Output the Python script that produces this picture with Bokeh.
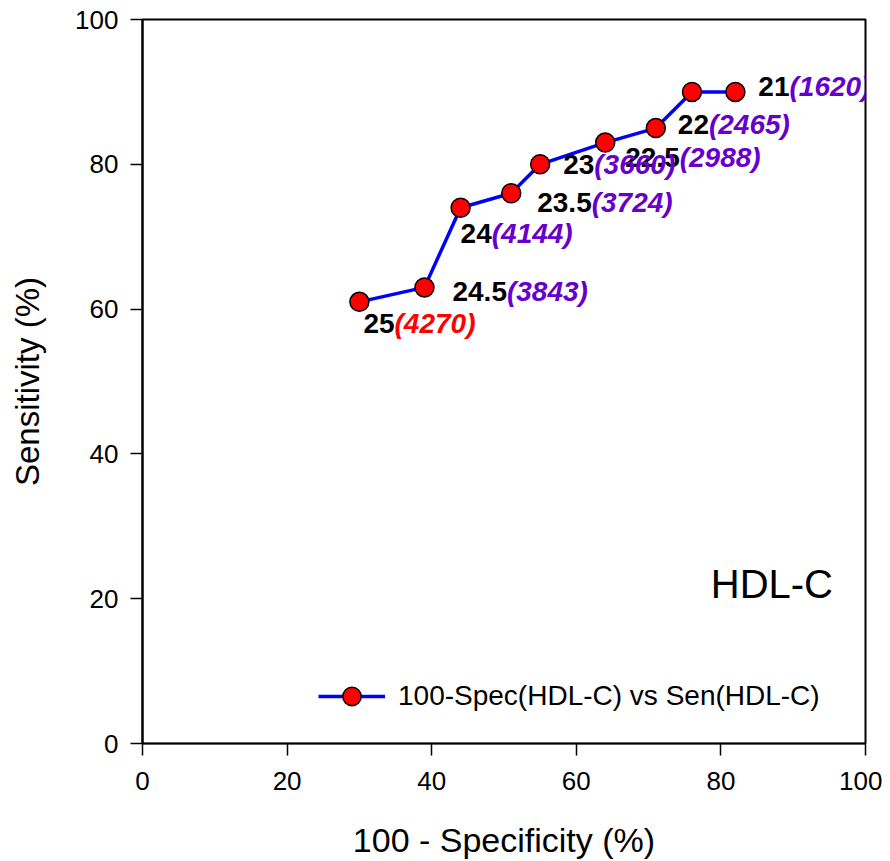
from bokeh.plotting import figure
from bokeh.models import Range1d, Label, Legend, LegendItem, ColumnDataSource, FixedTicker
from bokeh.core.properties import value
from bokeh.embed import file_html
from bokeh.resources import INLINE

# ---- data ----
fpr = [30, 39, 44, 51, 55, 64, 71, 76, 82]          # 100 - Specificity (%)
sens = [61, 63, 74, 76, 80, 83, 85, 90, 90]         # Sensitivity (%)
cutoffs = ["25", "24.5", "24", "23.5", "23", "22.5", "22", "", "21"]
counts = ["4270", "3843", "4144", "3724", "3660", "2988", "2465", "", "1620"]
ticks = [0, 20, 40, 60, 80, 100]

# ---- label placement (pixel offsets from each point) ----
label_dx = [4, 28, 0, 26, 23, 20, 22, 0, 23]
label_dy = [22, 4, 26, 9, 0, 15, -4, 0, -5]

FONT = "Liberation Sans"
LBL_PX = 28
PURPLE = "#6600cc"

def bold_width(s):
    w = {".": 0.278}
    return sum(w.get(c, 0.556) for c in s) * LBL_PX

p = figure(width=882, height=861, output_backend="svg", toolbar_location=None,
           x_range=Range1d(0, 100), y_range=Range1d(0, 100),
           min_border_left=142, min_border_right=17, min_border_top=19, min_border_bottom=118)
p.xgrid.visible = False
p.ygrid.visible = False
p.outline_line_color = "black"
p.outline_line_width = 2
p.background_fill_color = "white"
p.border_fill_color = "white"

for ax in (p.xaxis[0], p.yaxis[0]):
    ax.ticker = FixedTicker(ticks=ticks)
    ax.minor_tick_line_color = None
    ax.major_tick_in = 0
    ax.major_tick_out = 12
    ax.major_tick_line_width = 1.5
    ax.major_tick_line_color = "black"
    ax.axis_line_color = "black"
    ax.major_label_text_font = FONT
    ax.major_label_text_font_size = "26px"
    ax.major_label_text_color = "black"
    ax.axis_label_text_font = FONT
    ax.axis_label_text_font_style = "normal"
    ax.axis_label_text_color = "black"

p.xaxis.axis_line_width = 1.5
p.yaxis.axis_line_width = 2
p.xaxis.axis_label = "100 - Specificity (%)"
p.yaxis.axis_label = "Sensitivity (%)"
p.xaxis.axis_label_text_font_size = "34px"
p.yaxis.axis_label_text_font_size = "33px"
p.xaxis.major_label_standoff = 16
p.yaxis.major_label_standoff = 12
p.xaxis.axis_label_standoff = 28
p.yaxis.axis_label_standoff = 26

src = ColumnDataSource(dict(x=fpr, y=sens))
line_r = p.line("x", "y", source=src, line_color="blue", line_width=3.5)
pt_r = p.scatter("x", "y", source=src, size=19, fill_color="red", line_color="black", line_width=1.5)

# data labels
lx, ly, num, par, ndx, pdx, dy, pcol = [], [], [], [], [], [], [], []
for i in range(len(fpr)):
    if not cutoffs[i]:
        continue
    lx.append(fpr[i]); ly.append(sens[i])
    num.append(cutoffs[i]); par.append("(" + counts[i] + ")")
    ndx.append(label_dx[i]); pdx.append(label_dx[i] + bold_width(cutoffs[i]))
    dy.append(label_dy[i])
    pcol.append("red" if i == 0 else PURPLE)
lsrc = ColumnDataSource(dict(x=lx, y=ly, num=num, par=par, ndx=ndx, pdx=pdx, dy=dy, pcol=pcol))
p.text("x", "y", text="num", source=lsrc, x_offset="ndx", y_offset="dy",
       text_font=value(FONT), text_font_style="bold", text_font_size=f"{LBL_PX}px",
       text_color="black", text_align="left", text_baseline="middle")
p.text("x", "y", text="par", source=lsrc, x_offset="pdx", y_offset="dy",
       text_font=value(FONT), text_font_style="bold italic", text_font_size=f"{LBL_PX}px",
       text_color="pcol", text_align="left", text_baseline="middle")

p.add_layout(Label(x=78.6, y=22, text="HDL-C", text_font=FONT, text_font_size="40px",
                   text_color="black", text_align="left", text_baseline="middle"))

legend = Legend(items=[LegendItem(label="100-Spec(HDL-C) vs Sen(HDL-C)", renderers=[line_r, pt_r])],
                location=(176, 24), glyph_width=67, glyph_height=46, label_standoff=13,
                padding=0, margin=0, border_line_color=None, background_fill_alpha=0,
                label_text_font=FONT, label_text_font_size="28px", label_text_color="black")
p.add_layout(legend)

open("out.html", "w").write(file_html(p, INLINE))
